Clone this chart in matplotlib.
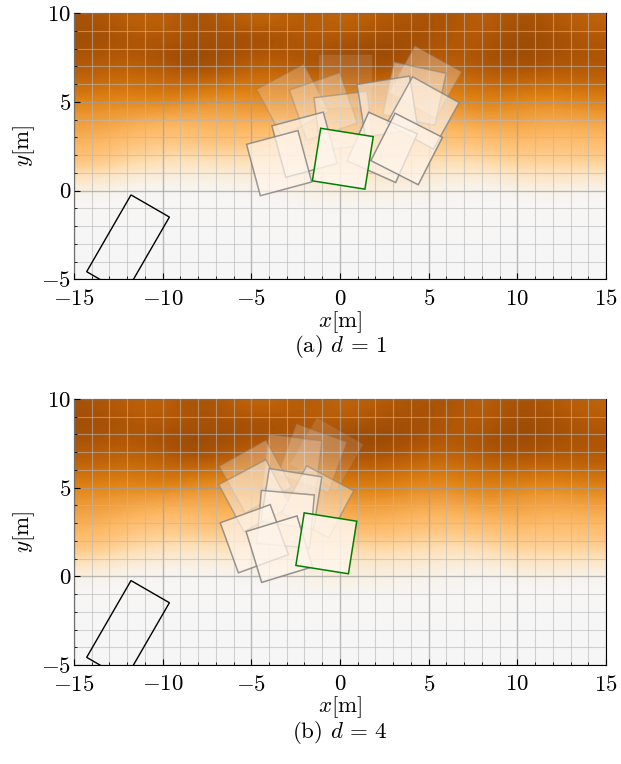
import numpy as np
import matplotlib
matplotlib.use("Agg")
import matplotlib.pyplot as plt
from matplotlib.patches import Rectangle
from matplotlib.ticker import MultipleLocator

plt.rcParams['font.family'] = 'serif'
plt.rcParams['font.serif'] = ['cmr10']
plt.rcParams['mathtext.fontset'] = 'cm'
plt.rcParams['axes.formatter.use_mathtext'] = True
plt.rcParams['font.size'] = 16.5

# background field, rows from y=9.5 down to y=-4.5, columns x=-14..14 step 2
field = np.array([
    [-0.84, -0.76, -0.74, -0.86, -0.76, -0.72, -0.80, -0.72, -0.78, -0.82, -0.84, -0.74, -0.86, -0.80, -0.74],
    [-0.88, -0.82, -0.80, -0.84, -0.86, -0.88, -0.78, -0.80, -0.86, -0.88, -0.80, -0.78, -0.90, -0.86, -0.80],
    [-0.82, -0.78, -0.86, -0.92, -0.84, -0.78, -0.84, -0.88, -0.92, -0.84, -0.78, -0.84, -0.90, -0.84, -0.82],
    [-0.76, -0.72, -0.74, -0.82, -0.74, -0.70, -0.74, -0.78, -0.80, -0.74, -0.70, -0.76, -0.80, -0.76, -0.78],
    [-0.66, -0.62, -0.68, -0.62, -0.58, -0.62, -0.60, -0.66, -0.68, -0.62, -0.60, -0.66, -0.66, -0.62, -0.66],
    [-0.54, -0.52, -0.50, -0.48, -0.48, -0.52, -0.50, -0.54, -0.56, -0.52, -0.50, -0.56, -0.52, -0.50, -0.54],
    [-0.48, -0.43, -0.38, -0.40, -0.42, -0.38, -0.42, -0.44, -0.46, -0.42, -0.40, -0.44, -0.46, -0.42, -0.44],
    [-0.40, -0.34, -0.30, -0.32, -0.34, -0.30, -0.32, -0.36, -0.38, -0.34, -0.32, -0.34, -0.36, -0.34, -0.36],
    [-0.34, -0.24, -0.18, -0.16, -0.18, -0.15, -0.18, -0.20, -0.24, -0.22, -0.18, -0.22, -0.28, -0.26, -0.28],
    [-0.13, -0.05, -0.03, -0.04, -0.05, -0.06, -0.08, -0.10, -0.10, -0.08, -0.06, -0.04, -0.10, -0.12, -0.08],
    [0.00, 0.00, 0.00, 0.00, 0.00, 0.00, -0.03, -0.04, -0.03, -0.02, -0.02, 0.00, 0.00, 0.00, 0.00],
    [0.00, 0.00, 0.00, 0.00, 0.00, 0.00, 0.00, 0.00, 0.00, 0.00, 0.00, 0.00, 0.00, 0.00, 0.00],
    [0.00, 0.00, 0.00, 0.00, 0.00, 0.00, 0.00, 0.00, 0.00, 0.00, 0.00, 0.00, 0.00, 0.00, 0.00],
    [0.00, 0.00, 0.00, 0.00, 0.00, 0.00, 0.00, 0.00, 0.00, 0.00, 0.00, 0.00, 0.00, 0.00, 0.00],
    [0.00, 0.00, 0.00, 0.00, 0.00, 0.00, 0.00, 0.00, 0.00, 0.00, 0.00, 0.00, 0.00, 0.00, 0.00],
])

# vehicle (black rectangle)
car_x, car_y = -11.95, -3.03
car_w, car_h, car_angle = 2.5, 5.0, -30

side = 3.0

# d = 1 : square centres, angles, opacity (last one is current, green)
a_x = [0.32, -2.66, -0.94, 4.81, 4.20, 0.21, 2.68, 4.68, -2.00, -3.43, 2.38, 3.76, 0.16]
a_y = [6.14, 5.09, 4.74, 6.11, 5.46, 3.93, 4.74, 4.38, 2.59, 1.55, 2.44, 2.35, 1.80]
a_ang = [0, 28, 19, -29, -12, 7, 9, -29, 15, 15, -24, -27, -9]
a_alpha = [0.15, 0.3, 0.35, 0.35, 0.5, 0.5, 0.7, 0.75, 0.8, 0.8, 0.85, 0.85, 1.0]

# d = 4
b_x = [-0.75, -1.55, -2.70, -4.76, -4.80, -1.26, -2.74, -3.07, -4.83, -3.42, -0.77]
b_y = [6.88, 6.66, 6.32, 5.62, 4.55, 4.20, 4.36, 3.22, 2.12, 1.53, 1.86]
b_ang = [-30, -20, -7, 29, 28, -28, -9, -5, 20, 17, -9]
b_alpha = [0.15, 0.25, 0.3, 0.35, 0.55, 0.5, 0.7, 0.75, 0.8, 0.85, 1.0]

captions = [r'(a) $d\,=\,1$', r'(b) $d\,=\,4$']

fig = plt.figure(figsize=(6.21, 7.64), dpi=100)
ax1 = fig.add_axes([0.1138, 0.6344, 0.8673, 0.3482])
ax2 = fig.add_axes([0.1138, 0.1296, 0.8673, 0.3482])

for ax, xs, ys, angs, alphas, cap, cy in [(ax1, a_x, a_y, a_ang, a_alpha, captions[0], 0.546),
                                         (ax2, b_x, b_y, b_ang, b_alpha, captions[1], 0.041)]:
    ax.imshow(field, cmap='PuOr', vmin=-1, vmax=1, extent=[-15, 15, -5, 10],
              interpolation='bicubic', origin='upper', zorder=0)
    for i in range(len(xs)):
        last = i == len(xs) - 1
        ax.add_patch(Rectangle((xs[i] - side / 2, ys[i] - side / 2), side, side,
                               angle=angs[i], rotation_point='center',
                               facecolor=(1, 0.96, 0.92, 0.85 * alphas[i]),
                               edgecolor='green' if last else (0.5, 0.5, 0.5, alphas[i]),
                               lw=1.1, zorder=3))
    ax.add_patch(Rectangle((car_x - car_w / 2, car_y - car_h / 2), car_w, car_h,
                           angle=car_angle, rotation_point='center',
                           facecolor='none', edgecolor='black', lw=1, zorder=4))
    ax.set_xlim(-15, 15)
    ax.set_ylim(-5, 10)
    ax.set_aspect('equal')
    ax.xaxis.set_major_locator(MultipleLocator(5))
    ax.yaxis.set_major_locator(MultipleLocator(5))
    ax.xaxis.set_minor_locator(MultipleLocator(1))
    ax.yaxis.set_minor_locator(MultipleLocator(1))
    ax.grid(which='major', color='0.62', alpha=0.7, lw=1.0, zorder=2)
    ax.grid(which='minor', color='0.72', alpha=0.6, lw=0.8, zorder=2)
    ax.set_axisbelow(False)
    ax.tick_params(which='both', direction='in')
    ax.tick_params(which='major', length=4)
    ax.tick_params(axis='x', which='major', pad=7)
    ax.tick_params(axis='y', which='major', pad=2)
    ax.tick_params(which='minor', length=2)
    ax.set_xlabel(r'$x$[m]', labelpad=0)
    ax.set_ylabel(r'$y$[m]', labelpad=3)
    fig.text(0.5475, cy, cap, ha='center', va='center', fontsize=16.5)

fig.savefig('out.png', dpi=100)
